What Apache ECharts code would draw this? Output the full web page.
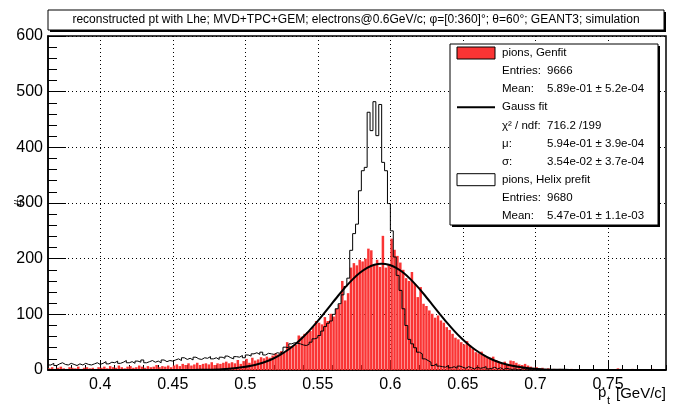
<!DOCTYPE html>
<html>
<head>
<meta charset="utf-8">
<title>pt pions</title>
<script src="https://cdn.jsdelivr.net/npm/echarts@6/dist/echarts.min.js"></script>
<style>
  html, body { margin: 0; padding: 0; background: #fff; }
  #chart { width: 693px; height: 410px; }
</style>
</head>
<body>
<div id="chart"></div>
<script>
// histogram binning (GeV/c)
const binStart = 0.364;
const binWidth = 0.002;

// pions, Genfit (red filled)
const genfitCounts = [
  3, 5, 2, 4, 6, 3, 2, 5, 4, 3, 6, 2, 4, 5, 3, 4, 2, 5,
  4, 6, 3, 7, 5, 4, 8, 5, 3, 6, 7, 4, 5, 8, 6, 4, 7, 5, 6, 9, 5, 7, 6, 8, 5,
  8, 10, 7, 11, 9, 12, 8, 10, 13, 9, 11, 12, 10, 14, 9, 12, 11, 13, 15, 12,
  14, 12, 18, 11, 16, 20, 13, 22, 17, 19,
  23, 21, 24, 22, 26, 30, 28, 34, 31,
  50, 43, 42, 45,
  62, 60, 65, 68, 70, 78, 88, 85, 82,
  95, 88, 101, 96, 110, 118,
  160, 125, 138, 184, 192, 188, 198, 195, 200,
  218, 215, 190, 198, 185, 241, 184, 190, 236, 216, 205,
  193, 180, 165, 160, 176, 155, 131, 149, 119, 115,
  107, 101, 94, 98, 89, 85, 77, 72, 65, 58, 55,
  50, 46, 52, 44, 38, 32, 30, 33, 26, 23,
  22, 24, 18, 14, 12, 15, 11, 17, 16, 13,
  10, 9, 11, 8, 6, 4, 5, 3, 4, 2,
  3, 0, 2, 1, 2, 0, 0, 0, 2, 0, 0, 0, 0, 1, 0, 0, 0, 0, 0, 0,
  0, 0, 0, 0, 3, 2, 0, 0, 0, 2, 0, 0, 1, 0, 0, 0, 2, 0, 0, 0, 0
];

// pions, Helix prefit (outline only)
const helixCounts = [
  9, 12, 8, 11, 13, 10, 9, 12, 10, 8, 11, 9, 12, 10, 9, 11, 13, 10,
  12, 15, 11, 14, 13, 16, 12, 14, 17, 13, 15, 12, 16, 14, 18, 13, 15, 17, 14, 16, 13, 18, 15, 17, 16,
  18, 20, 17, 22, 19, 21, 18, 23, 20, 19, 22, 21, 24, 20, 22, 19, 23, 21, 25, 22, 20, 24, 23, 26, 22,
  27, 25, 29, 31, 28, 32, 27, 30, 29, 28, 31, 30, 33,
  41, 40, 47, 49, 48, 47, 45, 44, 46, 50,
  56, 58, 62, 70, 78, 84,
  88, 100, 110, 119, 135, 150, 165, 215, 245,
  262, 322, 358, 364, 463, 430, 482, 421, 477,
  373, 358, 299, 250, 203, 170, 143, 110,
  80, 55, 47, 40, 32, 29, 20, 17, 14,
  8, 11, 7, 6, 5, 8, 4, 6, 3, 7,
  5, 3, 6, 4, 2, 5, 3, 4, 6, 2, 3, 5, 2, 4, 1, 3, 2,
  1, 2, 0, 1, 3, 0, 1, 0, 2, 0, 1, 0, 0,
  0, 1, 0, 0, 0, 0, 0, 0, 0, 0, 0, 0, 0, 0, 0, 0, 0, 0, 0, 0,
  0, 0, 0, 0, 0, 0, 0, 0, 0, 0, 0, 0, 0, 0, 0, 0, 0, 0, 0, 0, 0
];

// Gauss fit curve
const gaussX = [
  0.364, 0.404, 0.444, 0.464, 0.474, 0.484,
  0.494, 0.499, 0.504, 0.509, 0.514, 0.519, 0.524, 0.529, 0.534, 0.539,
  0.544, 0.549, 0.554, 0.559, 0.564, 0.569, 0.574, 0.579, 0.584, 0.589,
  0.594, 0.599, 0.604, 0.609, 0.614, 0.619, 0.624, 0.629, 0.634, 0.639,
  0.644, 0.649, 0.654, 0.659, 0.664, 0.669, 0.674, 0.679, 0.684, 0.689,
  0.694, 0.704, 0.714, 0.724, 0.744, 0.79
];
const gaussY = [
  0, 0, 0, 0.2, 0.6, 1.5,
  3.5, 5.2, 7.5, 10.7, 14.9, 20.2, 27.0, 35.4, 45.4, 57.1,
  70.4, 85.1, 100.9, 117.2, 133.4, 148.8, 162.8, 174.6, 183.5, 189.1,
  191.0, 189.1, 183.5, 174.6, 162.8, 148.8, 133.4, 117.2, 100.9, 85.1,
  70.4, 57.1, 45.4, 35.4, 27.0, 20.2, 14.9, 10.7, 7.5, 5.2,
  3.5, 1.5, 0.6, 0.2, 0, 0
];

// axes
const xMin = 0.364;
const xMax = 0.79;
const xTicks = [0.4, 0.45, 0.5, 0.55, 0.6, 0.65, 0.7, 0.75];
const yMax = 600;
const yStep = 100;

// texts
const titleText = 'reconstructed pt with Lhe; MVD+TPC+GEM; electrons@0.6GeV/c; \u03c6=[0:360]\u00b0; \u03b8=60\u00b0; GEANT3; simulation';
const statLabels = ['pions, Genfit', 'Entries:', 'Mean:', 'Gauss fit', '\u03c7\u00b2 / ndf:', '\u03bc:', '\u03c3:', 'pions, Helix prefit', 'Entries:', 'Mean:'];
const statValues = ['', '9666', '5.89e-01 \u00b1 5.2e-04', '', '716.2 /199', '5.94e-01 \u00b1 3.9e-04', '3.54e-02 \u00b1 3.7e-04', '', '9680', '5.47e-01 \u00b1 1.1e-03'];
const statSymbols = ['fill', '', '', 'line', '', '', '', 'box', '', ''];

const FONT = '"Liberation Sans", Arial, sans-serif';
const RED = '#fa3434';

// minor x ticks every 0.01
const xMinorTicks = [];
for (let k = 37; k <= 79; k++) {
    if (k % 5 !== 0) xMinorTicks.push(k / 100);
}

// red bins as [low, high, count]
const genfitBins = genfitCounts.map((c, i) => [binStart + i * binWidth, binStart + (i + 1) * binWidth, c]);

// outline points for the step line
const helixLine = helixCounts.map((c, i) => [binStart + i * binWidth, c]);
helixLine.push([binStart + helixCounts.length * binWidth, helixCounts[helixCounts.length - 1]]);

const gaussLine = gaussX.map((x, i) => [x, gaussY[i]]);

// legend / stats box
function buildStatsBox() {
    const left = 450, top = 44, width = 208, height = 181;
    const rowTop = 53, rowStep = 18.1;
    const els = [
        { type: 'rect', shape: { x: left + 2, y: top + 2, width: width, height: height }, style: { fill: '#000' }, z: 100 },
        { type: 'rect', shape: { x: left, y: top, width: width, height: height }, style: { fill: '#fff', stroke: '#000', lineWidth: 1 }, z: 101 }
    ];
    statLabels.forEach((label, i) => {
        const y = rowTop + i * rowStep;
        const sym = statSymbols[i];
        if (sym === 'fill') {
            els.push({ type: 'rect', shape: { x: 457, y: y - 6, width: 38, height: 12 }, style: { fill: RED, stroke: '#000', lineWidth: 1 }, z: 102 });
        } else if (sym === 'box') {
            els.push({ type: 'rect', shape: { x: 457, y: y - 6, width: 38, height: 12 }, style: { fill: '#fff', stroke: '#000', lineWidth: 1 }, z: 102 });
        } else if (sym === 'line') {
            els.push({ type: 'line', shape: { x1: 457, y1: y, x2: 495, y2: y }, style: { stroke: '#000', lineWidth: 2 }, z: 102 });
        }
        els.push({ type: 'text', x: 502, y: y, style: { text: label, font: '11.5px ' + FONT, fill: '#000', textVerticalAlign: 'middle' }, z: 102 });
        if (statValues[i]) {
            els.push({ type: 'text', x: 547, y: y, style: { text: statValues[i], font: '11.5px ' + FONT, fill: '#000', textVerticalAlign: 'middle' }, z: 102 });
        }
    });
    return els;
}

const chart = echarts.init(document.getElementById('chart'));
const option = {
    animation: false,
    backgroundColor: '#fff',
    grid: {
        left: 48, right: 27, top: 36, bottom: 40,
        containLabel: false, outerBoundsMode: 'none',
        show: true, borderColor: '#000', borderWidth: 1.5, backgroundColor: 'transparent'
    },
    xAxis: [
        {
            type: 'value', min: xMin, max: xMax, splitNumber: 9, position: 'bottom',
            axisLine: { show: true, onZero: false, lineStyle: { color: '#000', width: 1.5 } },
            axisTick: { show: true, inside: true, length: 10, customValues: xTicks, lineStyle: { color: '#000' } },
            axisLabel: {
                show: true, customValues: xTicks, margin: 7, color: '#000', fontSize: 16, fontFamily: FONT,
                formatter: v => String(+(+v).toFixed(2))
            },
            splitLine: { show: true, lineStyle: { color: '#000', type: [1, 3], width: 1 } }
        },
        {
            type: 'value', min: xMin, max: xMax, position: 'bottom',
            axisLine: { show: false },
            axisTick: { show: true, inside: true, length: 5, customValues: xMinorTicks, lineStyle: { color: '#000' } },
            axisLabel: { show: false },
            splitLine: { show: false }
        }
    ],
    yAxis: {
        type: 'value', min: 0, max: yMax, interval: yStep,
        axisLine: { show: true, lineStyle: { color: '#000', width: 1.5 } },
        axisTick: { show: true, inside: true, length: 18, lineStyle: { color: '#000' } },
        minorTick: { show: true, splitNumber: 5, length: 9, lineStyle: { color: '#000' } },
        axisLabel: { margin: 5, color: '#000', fontSize: 16, fontFamily: FONT },
        splitLine: { show: true, lineStyle: { color: '#000', type: [1, 3], width: 1 } }
    },
    series: [
        {
            name: 'pions, Genfit',
            type: 'custom',
            xAxisIndex: 0,
            clip: true,
            encode: { x: [0, 1], y: 2 },
            data: genfitBins,
            renderItem: function (params, api) {
                const p0 = api.coord([api.value(0), 0]);
                const p1 = api.coord([api.value(1), api.value(2)]);
                return {
                    type: 'rect',
                    shape: { x: p0[0], y: p1[1], width: Math.max(p1[0] - p0[0] - 0.4, 0.5), height: p0[1] - p1[1] },
                    style: { fill: RED }
                };
            },
            z: 2
        },
        {
            name: 'pions, Helix prefit',
            type: 'line',
            xAxisIndex: 0,
            step: 'end',
            symbol: 'none',
            data: helixLine,
            lineStyle: { color: '#000', width: 1 },
            z: 3
        },
        {
            name: 'Gauss fit',
            type: 'line',
            xAxisIndex: 0,
            smooth: 0.3,
            symbol: 'none',
            data: gaussLine,
            lineStyle: { color: '#000', width: 2 },
            z: 4
        }
    ],
    graphic: [
        // title box with shadow
        { type: 'rect', shape: { x: 50, y: 12, width: 616, height: 20 }, style: { fill: '#000' }, z: 100 },
        { type: 'rect', shape: { x: 48, y: 10, width: 616, height: 20 }, style: { fill: '#fff', stroke: '#000', lineWidth: 1 }, z: 101 },
        { type: 'text', x: 356, y: 20, style: { text: titleText, font: '12px ' + FONT, fill: '#000', textAlign: 'center', textVerticalAlign: 'middle' }, z: 102 },
        // y axis title
        { type: 'text', x: 19, y: 203, rotation: Math.PI / 2, style: { text: '#', font: '13px ' + FONT, fill: '#000', textAlign: 'center', textVerticalAlign: 'middle' }, z: 102 },
        // x axis title
        { type: 'text', x: 598, y: 393, style: { text: 'p', font: '15px ' + FONT, fill: '#000', textVerticalAlign: 'middle' }, z: 102 },
        { type: 'text', x: 607, y: 401, style: { text: 't', font: '11px ' + FONT, fill: '#000', textVerticalAlign: 'middle' }, z: 102 },
        { type: 'text', x: 666, y: 394, style: { text: '[GeV/c]', font: '15px ' + FONT, fill: '#000', textAlign: 'right', textVerticalAlign: 'middle' }, z: 102 }
    ].concat(buildStatsBox())
};
chart.setOption(option);
</script>
</body>
</html>
